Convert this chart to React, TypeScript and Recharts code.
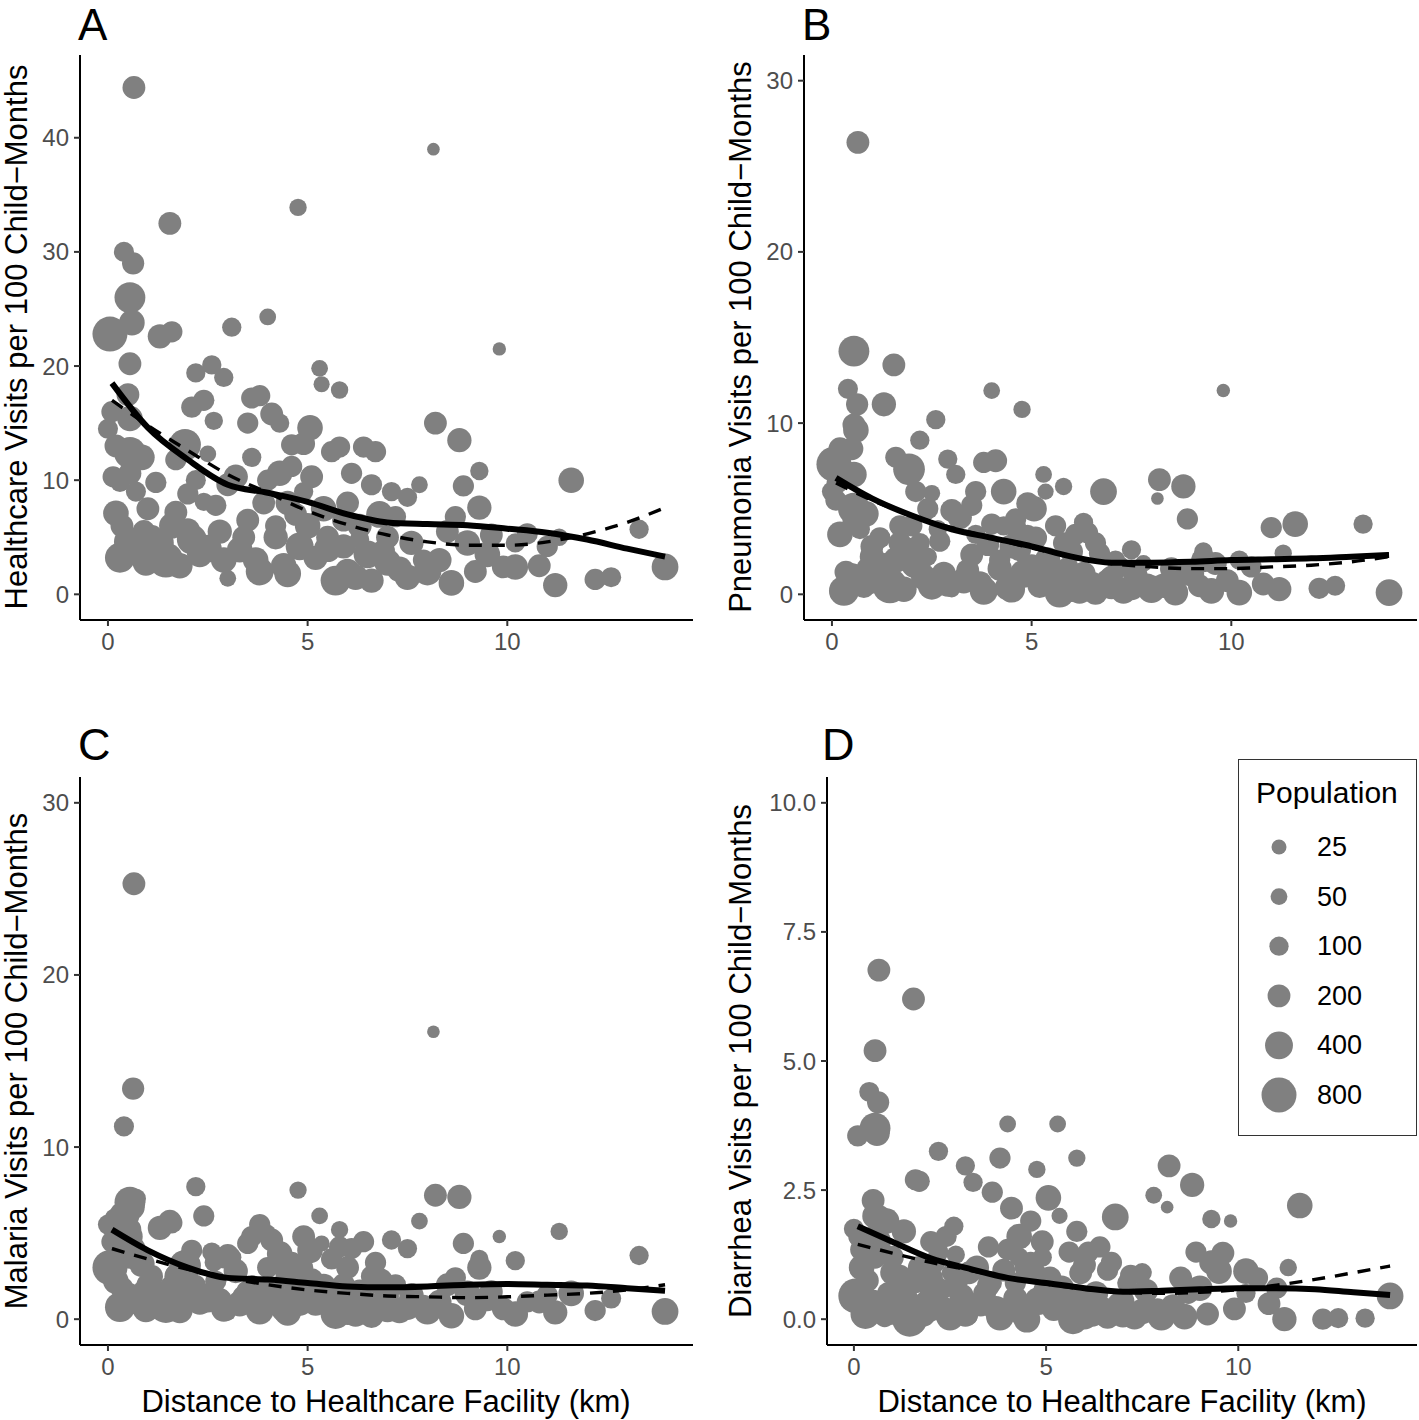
import React from 'react'
import { ScatterChart, Scatter, XAxis, YAxis, ZAxis } from 'recharts'

const FONT = "'Liberation Sans', Arial, Helvetica, sans-serif"

// one entry per village (same villages in all four panels)
const distanceKm = [
  0.05, 0.65, 0.4, 0.63, 0.55, 0.6, 0.55, 0.5, 0.1, 0.0,
  0.55, 0.55, 0.55, 0.13, 0.2, 0.35, 0.5, 0.65, 0.9, 0.8,
  1.0, 1.1, 0.3, 0.85, 1.2, 1.3, 1.6, 1.55, 1.93, 1.7,
  2.2, 2.2, 2.6, 2.9, 2.4, 2.1, 2.65, 2.5, 2.4, 1.45,
  1.3, 1.8, 2.0, 2.3, 1.7, 2.1, 3.1, 4.0, 3.6, 3.8,
  4.1, 3.5, 4.3, 3.2, 3.6, 4.0, 4.3, 3.0, 3.0, 2.8,
  3.3, 3.8, 3.5, 2.7, 4.2, 3.9, 2.9, 4.76, 5.3, 5.35,
  5.8, 5.06, 4.6, 4.9, 5.6, 5.8, 4.6, 5.1, 4.5, 5.4,
  5.9, 4.8, 5.2, 5.7, 4.4, 6.0, 5.5, 4.2, 4.9, 5.5,
  6.4, 6.7, 6.1, 6.6, 6.8, 7.1, 7.5, 7.8, 6.3, 7.0,
  6.5, 7.3, 6.9, 7.6, 6.2, 7.9, 6.0, 7.2, 8.15, 8.2,
  8.8, 8.9, 9.3, 9.3, 8.5, 9.0, 8.3, 9.6, 8.0, 9.8,
  9.9, 8.7, 9.5, 10.2, 10.2, 11.0, 11.6, 11.3, 12.2, 11.2,
  10.8, 13.3, 13.95, 12.6, 10.5, 0.3, 0.95, 1.6, 2.5, 3.4,
  4.5, 5.0, 6.6, 7.5, 8.6, 9.2, 3.7, 4.7, 5.9, 7.0,
  1.0, 2.0, 6.3, 0.7, 0.2,
]

const population = [
  800, 200, 120, 180, 550, 300, 200, 200, 150, 120,
  300, 600, 200, 150, 300, 200, 400, 250, 200, 150,
  250, 180, 100, 300, 150, 250, 150, 200, 600, 150,
  120, 100, 100, 100, 150, 150, 80, 50, 80, 800,
  400, 300, 250, 300, 200, 500, 100, 50, 150, 150,
  200, 150, 100, 250, 100, 150, 300, 200, 50, 250,
  300, 400, 200, 150, 250, 200, 300, 60, 50, 40,
  60, 300, 150, 200, 150, 150, 150, 200, 250, 300,
  200, 400, 250, 500, 300, 300, 200, 150, 100, 350,
  150, 150, 150, 150, 350, 100, 100, 50, 250, 200,
  400, 300, 200, 250, 300, 150, 200, 150, 5, 200,
  250, 150, 80, 250, 200, 300, 250, 200, 400, 10,
  200, 150, 300, 300, 100, 150, 300, 60, 150, 250,
  200, 100, 350, 120, 150, 500, 350, 300, 400, 200,
  350, 300, 250, 300, 300, 200, 300, 200, 250, 350,
  200, 150, 100, 120, 200,
]

const healthcareVisits = [
  22.8, 44.4, 30.0, 29.0, 26.0, 23.8, 20.2, 17.5, 16.0, 14.5,
  15.4, 12.4, 10.6, 10.3, 7.1, 6.0, 4.6, 4.0, 5.5, 3.6,
  4.8, 5.1, 9.8, 12.0, 9.8, 22.6, 23.0, 32.5, 13.1, 11.8,
  10.0, 19.4, 20.1, 19.0, 17.0, 16.4, 15.2, 12.3, 8.1, 3.0,
  4.5, 2.5, 5.6, 3.5, 7.2, 4.8, 23.4, 24.3, 17.2, 17.4,
  15.8, 15.0, 15.0, 10.3, 12.0, 10.0, 10.6, 9.6, 1.4, 5.5,
  3.9, 2.0, 6.5, 7.8, 5.0, 8.0, 3.0, 33.9, 19.8, 18.4,
  17.9, 14.6, 13.1, 13.2, 12.5, 12.9, 11.2, 10.3, 8.0, 7.5,
  6.5, 4.2, 3.2, 1.2, 2.5, 2.0, 5.0, 6.0, 9.0, 4.0,
  12.9, 12.5, 10.6, 9.6, 7.0, 9.0, 8.5, 9.6, 6.0, 5.0,
  3.5, 2.2, 3.8, 4.5, 1.5, 3.0, 8.0, 6.8, 39.0, 15.0,
  13.5, 9.5, 10.8, 7.6, 5.5, 4.5, 3.0, 5.2, 2.0, 21.5,
  2.4, 6.8, 3.5, 2.4, 4.5, 4.2, 10.0, 5.0, 1.3, 0.8,
  2.5, 5.7, 2.4, 1.5, 5.3, 3.2, 2.8, 6.0, 4.0, 5.0,
  1.8, 6.0, 1.2, 1.5, 1.0, 2.0, 3.0, 7.0, 4.2, 2.8,
  7.5, 8.8, 4.8, 9.0, 13.0,
]

const pneumoniaVisits = [
  7.6, 26.4, 12.0, 11.1, 14.2, 9.6, 9.9, 8.5, 5.5, 6.0,
  7.0, 5.0, 4.3, 6.5, 3.5, 1.3, 1.0, 0.6, 1.5, 0.4,
  2.2, 1.8, 7.3, 4.7, 3.3, 11.1, 8.0, 13.4, 7.3, 4.0,
  3.0, 9.0, 10.2, 7.9, 5.0, 6.0, 3.8, 5.9, 2.2, 0.5,
  1.6, 0.3, 2.6, 1.0, 3.0, 1.8, 7.0, 11.9, 6.0, 7.7,
  7.8, 5.2, 4.0, 4.5, 3.5, 4.1, 6.0, 4.9, 0.3, 1.2,
  0.8, 0.2, 2.3, 3.1, 1.5, 2.9, 0.6, 10.8, 7.0, 6.0,
  6.3, 5.0, 4.4, 5.3, 4.0, 3.0, 3.9, 3.3, 2.8, 2.0,
  1.5, 1.2, 0.5, 0.1, 0.4, 0.3, 1.1, 2.0, 3.5, 0.8,
  3.6, 2.4, 3.5, 3.0, 6.0, 2.0, 2.6, 1.8, 1.2, 1.0,
  0.5, 0.2, 0.8, 1.1, 0.2, 0.6, 2.5, 1.6, 5.6, 6.7,
  6.3, 4.4, 2.5, 2.0, 1.5, 1.2, 0.5, 1.8, 0.3, 11.9,
  0.8, 1.3, 0.2, 0.1, 2.0, 3.9, 4.1, 2.4, 0.35, 0.3,
  0.6, 4.1, 0.1, 0.5, 1.6, 0.2, 0.8, 2.0, 0.5, 1.4,
  0.3, 1.6, 0.1, 0.4, 0.1, 0.5, 0.6, 2.6, 1.3, 0.5,
  2.8, 4.0, 4.2, 3.8, 8.5,
]

const malariaVisits = [
  3.0, 25.3, 11.2, 13.4, 6.8, 6.5, 5.2, 6.0, 4.5, 5.5,
  4.8, 4.0, 3.6, 2.4, 2.2, 1.8, 1.3, 1.0, 1.6, 0.8,
  1.2, 2.5, 6.2, 3.2, 1.5, 5.3, 5.6, 5.7, 3.1, 2.6,
  2.0, 7.7, 3.9, 3.5, 6.0, 4.0, 3.3, 1.6, 0.9, 0.8,
  1.3, 0.5, 1.7, 1.0, 2.5, 1.4, 3.6, 5.0, 4.8, 5.5,
  4.6, 4.4, 3.2, 2.8, 2.0, 3.0, 3.8, 3.7, 0.4, 1.1,
  0.9, 0.5, 1.6, 2.2, 1.2, 1.8, 0.6, 7.5, 6.0, 4.4,
  5.2, 4.0, 3.3, 4.8, 3.5, 4.2, 2.8, 2.3, 2.5, 1.9,
  2.0, 1.0, 0.9, 0.3, 0.6, 0.4, 1.4, 1.5, 3.0, 1.2,
  4.5, 3.3, 4.1, 2.5, 2.2, 4.6, 4.1, 5.7, 1.6, 1.3,
  0.8, 0.5, 1.0, 1.4, 0.3, 0.8, 3.0, 2.0, 16.7, 7.2,
  7.1, 4.4, 3.5, 3.0, 2.0, 1.5, 1.0, 1.6, 0.5, 4.8,
  0.6, 2.4, 1.2, 0.3, 3.4, 1.4, 1.5, 5.1, 0.5, 0.4,
  1.0, 3.7, 0.45, 1.2, 1.0, 0.7, 0.6, 1.8, 1.2, 1.3,
  0.4, 2.2, 0.2, 0.7, 0.2, 0.6, 0.8, 1.7, 0.8, 0.6,
  2.0, 2.8, 1.2, 7.0, 5.8,
]

const diarrheaVisits = [
  0.45, 6.76, 4.4, 4.2, 3.7, 3.6, 5.2, 2.3, 3.55, 1.75,
  2.0, 1.5, 1.2, 1.6, 1.0, 0.75, 0.3, 0.15, 0.5, 0.05,
  0.9, 0.6, 0.2, 1.9, 0.85, 1.7, 2.7, 6.2, 0.25, 2.67,
  1.3, 3.25, 1.8, 2.97, 1.6, 1.1, 1.25, 0.9, 0.6, 0.0,
  0.4, 0.1, 0.8, 0.2, 1.0, 0.55, 2.65, 3.78, 2.46, 3.12,
  2.15, 1.4, 1.2, 1.0, 0.7, 1.35, 1.6, 0.9, 0.05, 0.45,
  0.3, 0.05, 0.65, 0.75, 0.4, 0.95, 0.1, 2.9, 3.78, 2.0,
  3.12, 2.35, 1.9, 1.5, 1.3, 1.7, 1.1, 0.8, 1.0, 0.6,
  0.9, 0.35, 0.2, 0.0, 0.1, 0.05, 0.5, 0.7, 1.2, 0.25,
  1.4, 1.1, 1.3, 0.95, 1.98, 0.7, 0.9, 2.4, 0.5, 0.35,
  0.15, 0.05, 0.3, 0.55, 0.1, 0.2, 1.05, 0.85, 2.17, 2.97,
  2.6, 1.3, 1.94, 1.1, 0.8, 0.6, 0.25, 1.28, 0.05, 1.9,
  0.2, 0.5, 0.93, 0.93, 0.5, 0.6, 2.2, 1.0, 0.0, 0.0,
  0.3, 0.02, 0.45, 0.02, 0.8, 0.1, 0.15, 0.75, 0.05, 0.5,
  0.0, 0.55, 0.05, 0.15, 0.05, 0.1, 0.2, 0.9, 0.4, 0.1,
  1.2, 1.5, 0.3, 2.0, 1.35,
]

// smoothed fits
const fitX = [0.1, 1, 2, 3, 4, 5, 6, 7, 8, 9, 10, 11, 12, 13, 13.95]
const healthcareLoess = [18.5, 14.6, 11.8, 9.6, 8.9, 8.1, 7.0, 6.3, 6.15, 6.05, 5.75, 5.4, 4.8, 4.0, 3.3]
const healthcareModel = [17.0, 14.8, 12.6, 10.5, 8.9, 7.3, 6.1, 5.2, 4.6, 4.3, 4.3, 4.6, 5.3, 6.3, 7.6]
const pneumoniaLoess = [6.8, 5.6, 4.6, 3.8, 3.3, 2.8, 2.2, 1.85, 1.85, 1.9, 2.0, 2.05, 2.1, 2.2, 2.3]
const pneumoniaModel = [6.5, 5.5, 4.6, 3.9, 3.3, 2.7, 2.2, 1.8, 1.6, 1.5, 1.5, 1.6, 1.7, 1.9, 2.2]
const malariaLoess = [5.2, 4.0, 3.0, 2.4, 2.3, 2.1, 1.9, 1.85, 1.9, 2.0, 2.05, 2.0, 1.95, 1.8, 1.65]
const malariaModel = [4.1, 3.5, 2.9, 2.4, 2.0, 1.7, 1.5, 1.35, 1.3, 1.25, 1.3, 1.4, 1.5, 1.7, 2.0]
const diarrheaLoess = [1.8, 1.5, 1.18, 0.98, 0.8, 0.7, 0.6, 0.53, 0.55, 0.58, 0.6, 0.6, 0.58, 0.52, 0.47]
const diarrheaModel = [1.45, 1.28, 1.1, 0.95, 0.8, 0.68, 0.58, 0.52, 0.5, 0.52, 0.57, 0.66, 0.77, 0.9, 1.03]

const xTicks = [0, 5, 10]
const legendBreaks = [25, 50, 100, 200, 400, 800]

const POP_MAX = 800
const R_MIN = 5.35
const R_MAX = 17.5

function Bubble(props: any) {
  const { cx, cy, size, width } = props
  if (cx == null || cy == null) return <g />
  const r = typeof size === 'number' ? size : Math.PI * Math.pow((width ?? 0) / 2, 2)
  return <circle cx={cx} cy={cy} r={r} fill="#808080" />
}

const NoDot = () => <g />

interface PanelSpec {
  letter: string
  title: string
  values: number[]
  loess: number[]
  model: number[]
  yDomain: [number, number]
  yTicks: number[]
  fmt?: (v: number) => string
  left: number
  top: number
  width: number
  height: number
  right: number
  yAxisWidth: number
  xAxisHeight: number
}

const panels: PanelSpec[] = [
  {
    letter: 'A', title: 'Healthcare Visits per 100 Child\u2212Months', values: healthcareVisits,
    loess: healthcareLoess, model: healthcareModel, yDomain: [-2.25, 47.25], yTicks: [0, 10, 20, 30, 40],
    left: 0, top: 0, width: 700, height: 680, right: 7, yAxisWidth: 80, xAxisHeight: 60,
  },
  {
    letter: 'B', title: 'Pneumonia Visits per 100 Child\u2212Months', values: pneumoniaVisits,
    loess: pneumoniaLoess, model: pneumoniaModel, yDomain: [-1.5, 31.5], yTicks: [0, 10, 20, 30],
    left: 724, top: 0, width: 695, height: 680, right: 2, yAxisWidth: 80, xAxisHeight: 60,
  },
  {
    letter: 'C', title: 'Malaria Visits per 100 Child\u2212Months', values: malariaVisits,
    loess: malariaLoess, model: malariaModel, yDomain: [-1.5, 31.5], yTicks: [0, 10, 20, 30],
    left: 0, top: 722, width: 700, height: 698, right: 7, yAxisWidth: 80, xAxisHeight: 75,
  },
  {
    letter: 'D', title: 'Diarrhea Visits per 100 Child\u2212Months', values: diarrheaVisits,
    loess: diarrheaLoess, model: diarrheaModel, yDomain: [-0.5, 10.5], yTicks: [0, 2.5, 5, 7.5, 10],
    fmt: (v: number) => v.toFixed(1),
    left: 724, top: 722, width: 695, height: 698, right: 2, yAxisWidth: 103, xAxisHeight: 75,
  },
]

const tickStyle = { fill: '#4D4D4D', fontSize: 24, fontFamily: FONT }

function Panel({ p }: { p: PanelSpec }) {
  const points = distanceKm.map((x, i) => ({ x, y: p.values[i], pop: population[i] }))
  const solid = fitX.map((x, i) => ({ x, y: p.loess[i] }))
  const dashed = fitX.map((x, i) => ({ x, y: p.model[i] }))
  return (
    <div style={{ position: 'absolute', left: p.left, top: p.top }}>
      <ScatterChart width={p.width} height={p.height} margin={{ top: 55, right: p.right, bottom: 0, left: 0 }}>
        <XAxis
          type="number"
          dataKey="x"
          domain={[-0.7, 14.65]}
          ticks={xTicks}
          interval={0}
          allowDataOverflow
          height={p.xAxisHeight}
          axisLine={{ stroke: '#000', strokeWidth: 2 }}
          tickLine={{ stroke: '#333', strokeWidth: 2 }}
          tickSize={6}
          tickMargin={7}
          tick={tickStyle}
        />
        <YAxis
          type="number"
          dataKey="y"
          domain={p.yDomain}
          ticks={p.yTicks}
          interval={0}
          allowDataOverflow
          width={p.yAxisWidth}
          axisLine={{ stroke: '#000', strokeWidth: 2 }}
          tickLine={{ stroke: '#333', strokeWidth: 2 }}
          tickSize={6}
          tickMargin={5}
          tick={tickStyle}
          tickFormatter={p.fmt}
        />
        <ZAxis type="number" dataKey="pop" scale="sqrt" domain={[0, POP_MAX]} range={[R_MIN, R_MAX]} />
        <Scatter data={points} shape={<Bubble />} isAnimationActive={false} />
        <Scatter
          data={dashed}
          shape={<NoDot />}
          fill="#000"
          line={{ stroke: '#000', strokeWidth: 3.4, strokeDasharray: '13 10' }}
          lineJointType="monotoneX"
          isAnimationActive={false}
        />
        <Scatter
          data={solid}
          shape={<NoDot />}
          fill="#000"
          line={{ stroke: '#000', strokeWidth: 6 }}
          lineJointType="monotoneX"
          isAnimationActive={false}
        />
      </ScatterChart>
    </div>
  )
}

// same sqrt mapping as the ZAxis, for the legend keys
const legendRadius = (pop: number) => R_MIN + (R_MAX - R_MIN) * Math.sqrt(pop / POP_MAX)

function Overlay() {
  const titleY = [
    { text: panels[0].title, x: 16, y: 337 },
    { text: panels[1].title, x: 740, y: 337 },
    { text: panels[2].title, x: 16, y: 1061 },
    { text: panels[3].title, x: 740, y: 1061 },
  ]
  return (
    <svg width={1419} height={1420} style={{ position: 'absolute', left: 0, top: 0, pointerEvents: 'none' }}>
      <g fontFamily={FONT} fill="#000">
        <text x={78} y={40} fontSize={44}>A</text>
        <text x={802} y={40} fontSize={44}>B</text>
        <text x={78} y={760} fontSize={45}>C</text>
        <text x={822} y={760} fontSize={45}>D</text>
        {titleY.map((t) => (
          <text
            key={t.text}
            x={t.x}
            y={t.y}
            fontSize={31}
            textAnchor="middle"
            dominantBaseline="central"
            transform={`rotate(-90, ${t.x}, ${t.y})`}
          >
            {t.text}
          </text>
        ))}
        <text x={386} y={1412} fontSize={31} textAnchor="middle">Distance to Healthcare Facility (km)</text>
        <text x={1122} y={1412} fontSize={31} textAnchor="middle">Distance to Healthcare Facility (km)</text>
      </g>
      <g>
        <rect x={1238.5} y={759.5} width={178} height={376} fill="#fff" stroke="#333" strokeWidth={1} />
        <text x={1256} y={803} fontSize={30} fontFamily={FONT} fill="#000">Population</text>
        {legendBreaks.map((b, i) => {
          const cy = 847 + i * 49.6
          return (
            <g key={b}>
              <circle cx={1279} cy={cy} r={legendRadius(b)} fill="#808080" />
              <text x={1317} y={cy} fontSize={27} fontFamily={FONT} fill="#000" dominantBaseline="central">{b}</text>
            </g>
          )
        })}
      </g>
    </svg>
  )
}

export default function App() {
  return (
    <div style={{ position: 'absolute', left: 0, top: 0, width: 1419, height: 1420, overflow: 'hidden', background: '#fff' }}>
      {panels.map((p) => (
        <Panel key={p.letter} p={p} />
      ))}
      <Overlay />
    </div>
  )
}
